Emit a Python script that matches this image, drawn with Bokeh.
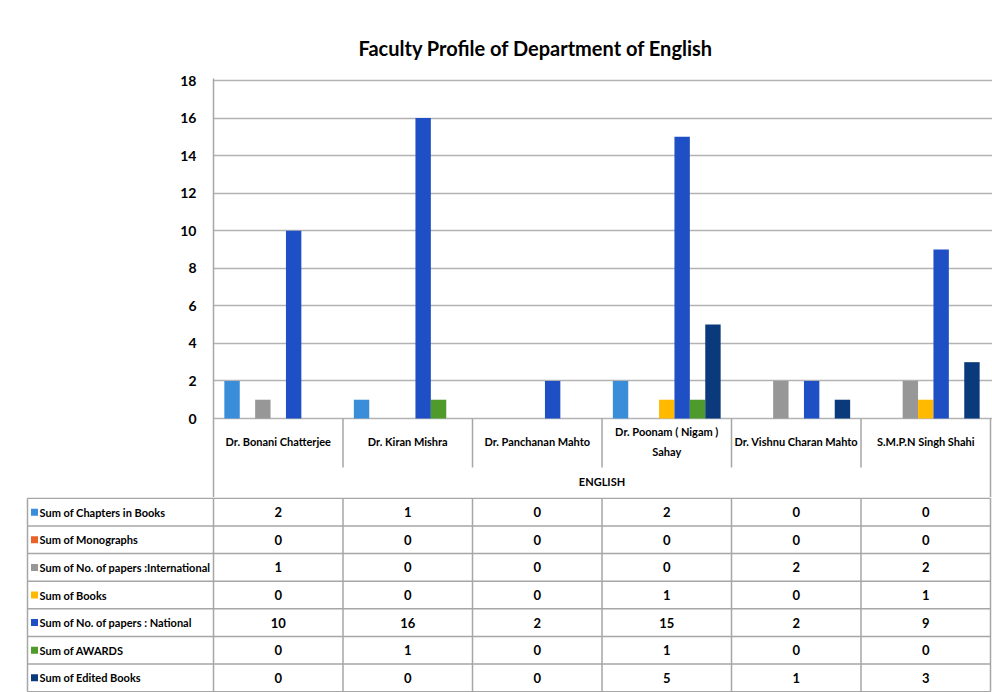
from bokeh.plotting import figure
from bokeh.models import ColumnDataSource, Range1d, FixedTicker
from bokeh.transform import dodge
from bokeh.embed import file_html
from bokeh.resources import INLINE
from bokeh.core.properties import value

# ---------------- data ----------------
faculty = ["Dr. Bonani Chatterjee", "Dr. Kiran Mishra", "Dr. Panchanan Mahto",
           "Dr. Poonam ( Nigam ) Sahay", "Dr. Vishnu Charan Mahto", "S.M.P.N Singh Shahi"]
faculty_labels = ["Dr. Bonani Chatterjee", "Dr. Kiran Mishra", "Dr. Panchanan Mahto",
                  "Dr. Poonam ( Nigam )\nSahay", "Dr. Vishnu Charan Mahto", "S.M.P.N Singh Shahi"]
department = "ENGLISH"
title_text = "Faculty Profile of Department of English"

series_names = ["Sum of Chapters in Books", "Sum of Monographs",
                "Sum of No. of papers :International", "Sum of Books",
                "Sum of No. of papers : National", "Sum of AWARDS", "Sum of Edited Books"]
chapters_in_books = [2, 1, 0, 2, 0, 0]
monographs = [0, 0, 0, 0, 0, 0]
papers_international = [1, 0, 0, 0, 2, 2]
books = [0, 0, 0, 1, 0, 1]
papers_national = [10, 16, 2, 15, 2, 9]
awards = [0, 1, 0, 1, 0, 0]
edited_books = [0, 0, 0, 5, 1, 3]
series_values = [chapters_in_books, monographs, papers_international, books,
                 papers_national, awards, edited_books]
series_keys = ["chapters", "monographs", "intl", "books", "national", "awards", "edited"]
colors = ["#3A8DD8", "#E8622A", "#979797", "#FFBA00", "#1E4FC4", "#4E9B2C", "#0A3A7C"]
y_ticks = [0, 2, 4, 6, 8, 10, 12, 14, 16, 18]

FONT = "Lato"
GRID = "#b3b3b3"
LINE = "#a6a6a6"

# ---------------- geometry (page pixels) ----------------
W = 992
PAGE_L, PAGE_R = 0, 992
X0_PAGE, X6_PAGE = 213, 990          # category area left / right
PPU_X = (X6_PAGE - X0_PAGE) / 6.0
Y0_PAGE, Y18_PAGE = 418, 80
PPU_Y = (Y0_PAGE - Y18_PAGE) / 18.0
FIG1_TOP, FIG1_BOTTOM = 0, 497
FRAME1_TOP = 78
H1 = FIG1_BOTTOM - FIG1_TOP
H2 = 692 - H1

n = len(faculty)
pos = [i + 0.5 for i in range(n)]
src = ColumnDataSource(dict(pos=pos, label=faculty_labels,
                            **{k: v for k, v in zip(series_keys, series_values)}))

# ---------------- chart figure ----------------
x_end = (PAGE_R - X0_PAGE) / PPU_X
y_bottom = -(FIG1_BOTTOM - Y0_PAGE) / PPU_Y
y_top = 18 + (Y18_PAGE - FRAME1_TOP) / PPU_Y

p = figure(width=W, height=H1, output_backend="svg", toolbar_location=None,
           x_range=Range1d(0, x_end), y_range=Range1d(y_bottom, y_top),
           min_border_left=X0_PAGE - PAGE_L, min_border_right=0,
           min_border_top=FRAME1_TOP - FIG1_TOP, min_border_bottom=0)
p.outline_line_color = None
p.xaxis.visible = False
p.xgrid.visible = False
p.ygrid.ticker = FixedTicker(ticks=y_ticks)
p.ygrid.grid_line_color = GRID
p.ygrid.grid_line_width = 1.5
yax = p.yaxis[0]
yax.ticker = FixedTicker(ticks=y_ticks)
yax.major_tick_line_color = None
yax.minor_tick_line_color = None
yax.axis_line_color = LINE
yax.axis_line_width = 1.5
yax.major_label_standoff = 11
yax.major_label_text_font = FONT
yax.major_label_text_font_size = "14px"
yax.major_label_text_font_style = "bold"
yax.major_label_text_color = "#000000"

p.title.text = title_text
p.title.text_font = FONT
p.title.text_font_size = "20px"
p.title.text_font_style = "bold"
p.title.align = "left"
p.title.offset = 145
p.title.standoff = 38
p.title.text_color = "#000000"

bw = 15.4 / PPU_X
for k, (key, color) in enumerate(zip(series_keys, colors)):
    p.vbar(x=dodge("pos", (k - 3) * bw, range=p.x_range), top=key, width=bw,
           source=src, fill_color=color, line_color=None)

# category label cells
sep_bottom = -(467 - Y0_PAGE) / PPU_Y
p.segment(x0=[1, 2, 3, 4, 5], y0=[0] * 5, x1=[1, 2, 3, 4, 5], y1=[sep_bottom] * 5,
          line_color=LINE, line_width=1.5)
p.segment(x0=[6], y0=[0], x1=[6], y1=[y_bottom], line_color=LINE, line_width=1.5)
p.text(x="pos", y=-(441 - Y0_PAGE) / PPU_Y, text="label", source=src,
       text_font=value(FONT), text_font_size="11px", text_font_style="bold",
       text_align="center", text_baseline="middle", text_line_height=1.55,
       text_color="#000000")
p.text(x=[n / 2.0], y=[-(481 - Y0_PAGE) / PPU_Y], text=[department],
       text_font=value(FONT), text_font_size="11px", text_font_style="bold",
       text_align="center", text_baseline="middle", text_color="#000000")

# ---------------- data table figure ----------------
L = (X0_PAGE - 27) / PPU_X
x2_start = (PAGE_L - X0_PAGE) / PPU_X
x2_end = (PAGE_R - X0_PAGE) / PPU_X
rows = len(series_names)
t = figure(width=W, height=H2, output_backend="svg", toolbar_location=None,
           x_range=Range1d(x2_start, x2_end), y_range=Range1d(rows + 0.03, -0.03),
           min_border_left=0, min_border_right=0, min_border_top=0, min_border_bottom=0)
t.outline_line_color = None
t.axis.visible = False
t.grid.visible = False

t.segment(x0=[-L] * (rows + 1), y0=list(range(rows + 1)),
          x1=[n] * (rows + 1), y1=list(range(rows + 1)),
          line_color=LINE, line_width=1.5)
vx = [-L] + list(range(n + 1))
t.segment(x0=vx, y0=[0] * len(vx), x1=vx, y1=[rows] * len(vx),
          line_color=LINE, line_width=1.5)

row_y = [r + 0.5 for r in range(rows)]
t.scatter(x=[-L + 7 / PPU_X] * rows, y=row_y, marker="square", size=7,
          fill_color=colors, line_color=None)
t.text(x=[-L + 12 / PPU_X] * rows, y=row_y, text=series_names,
       text_font=value(FONT), text_font_size="11px", text_font_style="bold",
       text_align="left", text_baseline="middle", text_color="#000000")

vals_x, vals_y, vals_t = [], [], []
for r, vals in enumerate(series_values):
    for i, v in enumerate(vals):
        vals_x.append(pos[i])
        vals_y.append(r + 0.5)
        vals_t.append(str(v))
t.text(x=vals_x, y=vals_y, text=vals_t,
       text_font=value(FONT), text_font_size="13px", text_font_style="bold",
       text_align="center", text_baseline="middle", text_color="#000000")

open("out.html", "w").write(file_html([p, t], INLINE))
